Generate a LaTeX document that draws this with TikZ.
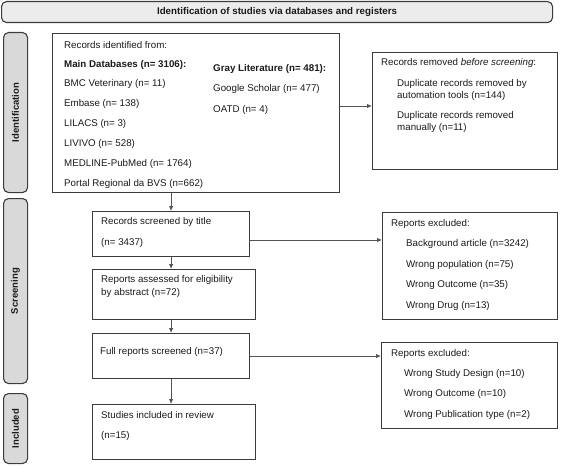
\documentclass[tikz,border=0pt]{standalone}
\usepackage{fontspec}
\setmainfont{Liberation Sans}
\usetikzlibrary{arrows.meta}
\definecolor{boxc}{HTML}{3C3C3C}
\definecolor{arrc}{HTML}{555555}
\definecolor{sidec}{HTML}{D9D9D9}
\definecolor{banc}{HTML}{ECECEC}
\definecolor{txtc}{HTML}{1A1A1A}
\begin{document}
\begin{tikzpicture}[x=1pt,y=-1pt,
 box/.style={draw=boxc, line width=1.1pt, anchor=north west, inner sep=0pt},
 side/.style={draw=boxc, fill=sidec, rounded corners=5pt, line width=1.1pt, anchor=north west, inner sep=0pt},
 lbl/.style={anchor=west, inner sep=0pt, font=\fontsize{9.75}{11}\selectfont, text=txtc},
 blbl/.style={lbl, font=\fontsize{9.75}{11}\selectfont\bfseries},
 sidetxt/.style={inner sep=0pt, rotate=90, font=\fontsize{9.5}{11}\selectfont\bfseries, text=txtc},
 arr/.style={draw=arrc, line width=0.8pt, -{Latex[length=5pt,width=4.5pt]}},
]
\useasboundingbox (0,0) rectangle (561,465);

% banner and side labels
\node[side, fill=banc, minimum width=551pt, minimum height=21pt] (banner) at (1,1) {};
\node[inner sep=0pt, font=\fontsize{9.75}{11}\selectfont\bfseries, text=txtc] (bannert) at (banner.center) {Identification of studies via databases and registers};
\node[side, minimum width=24pt, minimum height=160pt] (sid) at (3,32) {};
\node[sidetxt] (sidt) at (sid.center) {Identification};
\node[side, minimum width=24pt, minimum height=185pt] (sscr) at (3,198) {};
\node[sidetxt] (sscrt) at (sscr.center) {Screening};
\node[side, minimum width=24pt, minimum height=70pt] (sinc) at (3,393) {};
\node[sidetxt] (sinct) at (sinc.center) {Included};

% boxes
\node[box, minimum width=287pt, minimum height=159pt] (main) at (52,33) {};
\node[box, minimum width=185pt, minimum height=117pt] (removed) at (372,52) {};
\node[box, minimum width=157pt, minimum height=45pt] (screened) at (92,211) {};
\node[box, minimum width=175pt, minimum height=107pt] (excl1) at (382,212) {};
\node[box, minimum width=163pt, minimum height=50pt] (assessed) at (92,269) {};
\node[box, minimum width=157pt, minimum height=45pt] (full) at (92,333) {};
\node[box, minimum width=176pt, minimum height=86pt] (excl2) at (381,342) {};
\node[box, minimum width=163pt, minimum height=55pt] (included) at (92,404) {};

% main box text
\node[lbl] (m0) at (64,45) {Records identified from:};
\node[blbl] (m1) at (64,65) {Main Databases (n= 3106):};
\node[lbl] (m2) at (64,84) {BMC Veterinary (n= 11)};
\node[lbl] (m3) at (64,104) {Embase (n= 138)};
\node[lbl] (m4) at (64,124) {LILACS (n= 3)};
\node[lbl] (m5) at (64,144) {LIVIVO (n= 528)};
\node[lbl] (m6) at (64,164) {MEDLINE-PubMed (n= 1764)};
\node[lbl] (m7) at (64,184) {Portal Regional da BVS (n=662)};
\node[blbl] (g1) at (213,69) {Gray Literature (n= 481):};
\node[lbl] (g2) at (213,89) {Google Scholar (n= 477)};
\node[lbl] (g3) at (213,110) {OATD (n= 4)};

% removed box text
\node[lbl] (r0) at (381,63) {Records removed \emph{before screening}:};
\node[lbl] (r1) at (397,84) {Duplicate records removed by};
\node[lbl] (r2) at (397,96) {automation tools (n=144)};
\node[lbl] (r3) at (397,116) {Duplicate records removed};
\node[lbl] (r4) at (397,128) {manually (n=11)};

% flow boxes text
\node[lbl] (s1) at (101,222) {Records screened by title};
\node[lbl] (s2) at (101,243) {(n= 3437)};
\node[lbl] (a1) at (101,280) {Reports assessed for eligibility};
\node[lbl] (a2) at (101,293) {by abstract (n=72)};
\node[lbl] (f1) at (100,352) {Full reports screened (n=37)};
\node[lbl] (i1) at (101,415) {Studies included in review};
\node[lbl] (i2) at (101,436) {(n=15)};

% excluded 1
\node[lbl] (e0) at (391,224) {Reports excluded:};
\node[lbl] (e1) at (406,244) {Background article (n=3242)};
\node[lbl] (e2) at (406,265) {Wrong population (n=75)};
\node[lbl] (e3) at (406,285) {Wrong Outcome (n=35)};
\node[lbl] (e4) at (406,306) {Wrong Drug (n=13)};

% excluded 2
\node[lbl] (x0) at (391,354) {Reports excluded:};
\node[lbl] (x1) at (404,374) {Wrong Study Design (n=10)};
\node[lbl] (x2) at (404,394) {Wrong Outcome (n=10)};
\node[lbl] (x3) at (404,415) {Wrong Publication type (n=2)};

% connectors
\draw[arr] (main.south -| screened.north) -- (screened.north);
\draw[arr] (screened.south) -- (screened.south |- assessed.north);
\draw[arr] (assessed.south -| screened.south) -- (screened.south |- full.north);
\draw[arr] (full.south) -- (full.south |- included.north);
\draw[arr] (main.east |- 0,106) -- (removed.west |- 0,106);
\draw[arr] (screened.east |- 0,240) -- (excl1.west |- 0,240);
\draw[arr] (full.east) -- (full.east -| excl2.west);
\end{tikzpicture}
\end{document}
